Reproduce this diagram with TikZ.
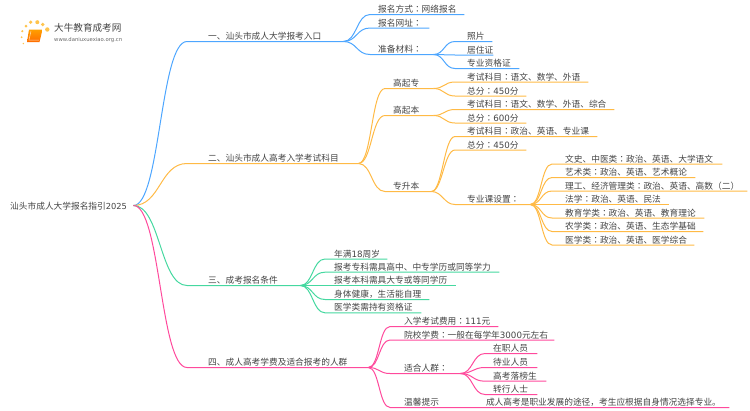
\documentclass[tikz,border=0pt]{standalone}
\usepackage{fontspec}
\usetikzlibrary{calc}
\setmainfont{Noto Sans CJK SC}
\newfontfamily\jpfont{Noto Sans CJK JP}
\newfontfamily\numfont{DejaVu Sans}
% colon sits mid-height in the reference
\catcode`\：=\active
\def：{{\jpfont\char"FF1A}}
\definecolor{blueline}{HTML}{4DA6FF}
\definecolor{orangeline}{HTML}{FFBA45}
\definecolor{greenline}{HTML}{45D8A0}
\definecolor{pinkline}{HTML}{FF4A9C}
\definecolor{inkcol}{HTML}{444444}
\definecolor{dotcol}{HTML}{FFC44D}
\tikzset{
  lab/.style={anchor=south west,inner xsep=0pt,inner ysep=1.8pt,text height=8pt,text depth=0pt,
    align=left,font=\fontsize{8.7}{10}\selectfont,text=inkcol},
  branch/.style={out=0,in=180,distance=#1,line width=1pt},
}
\begin{document}
\begin{tikzpicture}[x=1pt,y=-1pt]
\useasboundingbox (0,-.5) rectangle (750,409.5);

% logo
\foreach \i/\j/\r in {26/25.7/1.5,30.7/21.7/1.8,37.3/21.7/2,42.7/24/1.9,47.3/29/2.2,22.3/30.7/1.2,21.7/36.7/1,23.3/43/.8}{\fill[dotcol] (\i,\j) circle (\r pt);}
\shade[top color=orange!75!yellow,bottom color=orange!85!red] (29,29) -- (42.5,29) -- (39.5,41.5) -- (27,41.5) -- cycle;
\draw[white,opacity=.7,line width=.5pt] (31,30.5) -- (29,39.5) -- (39,39.5);
\shade[left color=white,middle color=black!22,right color=white] (45,32.8) rectangle (133,33.6);
\node[anchor=base west,inner sep=0pt,text=inkcol,font=\fontsize{9.6}{10}\selectfont] (logotitle) at (54,30.5) {大牛教育成考网};
\node[anchor=base west,inner sep=0pt,text=black!60,font=\numfont\fontsize{5.3}{6}\selectfont] (logourl) at (54,41) {www.daniuxuexiao.org.cn};

% root and the four main branches
\node[lab,anchor=west,text width=133pt,inner ysep=0pt,text height=7pt] (root) at (0,205) {\hspace*{10pt}汕头市成人大学报名指引{\numfont\fontsize{8.3}{10}\selectfont 2025}};
\foreach \nm/\col/\y/\w/\lb in {
  main1/blueline/41/156/一、汕头市成人大学报考入口,
  main2/orangeline/163/171/二、汕头市成人高考入学考试科目,
  main3/greenline/285/113/三、成考报名条件,
  main4/pinkline/367/181/四、成人高考学费及适合报考的人群}{
  \node[lab,text width=\w pt] (\nm) at (187,\y) {\hspace*{21pt}\lb};
  \draw[\col,branch=27pt] (root.east) to (\nm.south west) -- (\nm.south east);
}

% blue part
\foreach \nm/\y/\w/\lb in {
  ba/14/94/报名方式：网络报名,
  bb/27.5/59/报名网址：,
  bc/54/63/准备材料：}{
  \node[lab,text width=\w pt] (\nm) at (370,\y) {\hspace*{8pt}\lb};
  \draw[blueline,branch=13.5pt] (main1.south east) to (\nm.south west) -- (\nm.south east);
}
\foreach \nm/\y/\w/\lb in {
  bca/41/37/照片,
  bcb/54.5/38/居住证,
  bcc/68/64/专业资格证}{
  \node[lab,text width=\w pt] (\nm) at (455,\y) {\hspace*{12pt}\lb};
  \draw[blueline,branch=11pt] (bc.south east) to (\nm.south west) -- (\nm.south east);
}

% orange part
\foreach \nm/\y/\w/\lb in {
  oa/88/48/高起专,
  ob/115/48/高起本,
  oc/191/46/专升本}{
  \node[lab,text width=\w pt] (\nm) at (385,\y) {\hspace*{8pt}\lb};
  \draw[orangeline,branch=13.5pt] (main2.south east) to (\nm.south west) -- (\nm.south east);
}
\foreach \nm/\up/\y/\w/\lb in {
  oaa/oa/81.5/133/考试科目：语文、数学、外语,
  oab/oa/95.5/71/总分：{\numfont 450}分,
  oba/ob/109/159/考试科目：语文、数学、外语、综合,
  obb/ob/122.5/71/总分：{\numfont 600}分,
  oca/oc/136/142/考试科目：政治、英语、专业课,
  ocb/oc/149.5/71/总分：{\numfont 450}分,
  occ/oc/204/75/专业课设置：}{
  \node[lab,text width=\w pt] (\nm) at (455,\y) {\hspace*{12pt}\lb};
  \draw[orangeline,branch=11pt] (\up.south east) to (\nm.south west) -- (\nm.south east);
}
\foreach \nm/\y/\w/\lb in {
  occa/163.5/170/文史、中医类：政治、英语、大学语文,
  occb/177/143/艺术类：政治、英语、艺术概论,
  occc/190.5/195/理工、经济管理类：政治、英语、高数（二）,
  occd/204/117/法学：政治、英语、民法,
  occe/217.5/152/教育学类：政治、英语、教育理论,
  occf/231/151/农学类：政治、英语、生态学基础,
  occg/244.5/142/医学类：政治、英语、医学综合}{
  \node[lab,text width=\w pt] (\nm) at (552,\y) {\hspace*{13pt}\lb};
  \draw[orangeline,branch=11pt] (occ.south east) to (\nm.south west) -- (\nm.south east);
}

% green part
\foreach \nm/\y/\w/\lb in {
  ga/258.5/62/年满{\numfont 18}周岁,
  gb/271.7/174/报考专科需具高中、中专学历或同等学力,
  gc/285/131/报考本科需具大专或等同学历,
  gd/299/104/身体健康，生活能自理,
  ge/312.3/96/医学类需持有资格证}{
  \node[lab,text width=\w pt] (\nm) at (325,\y) {\hspace*{9pt}\lb};
  \draw[greenline,branch=12.5pt] (main3.south east) to (\nm.south west) -- (\nm.south east);
}

% pink part
\foreach \nm/\y/\w/\lb in {
  pa/326/108/入学考试费用：{\numfont 111}元,
  pb/339.5/164/院校学费：一般在每学年{\numfont 3000}元左右,
  pc/373/70/适合人群：,
  pd/407/339/温馨提示\hspace{47pt}成人高考是职业发展的途径，考生应根据自身情况选择专业。}{
  \node[lab,text width=\w pt] (\nm) at (390,\y) {\hspace*{14pt}\lb};
  \draw[pinkline,branch=11pt] (main4.south east) to (\nm.south west) -- (\nm.south east);
}
\foreach \nm/\y/\w/\lb in {
  pca/353/52/在职人员,
  pcb/367/52/待业人员,
  pcc/380.7/61/高考落榜生,
  pcd/394/52/转行人士}{
  \node[lab,text width=\w pt] (\nm) at (485,\y) {\hspace*{8pt}\lb};
  \draw[pinkline,branch=12.5pt] (pc.south east) to (\nm.south west) -- (\nm.south east);
}
\end{tikzpicture}
\end{document}
